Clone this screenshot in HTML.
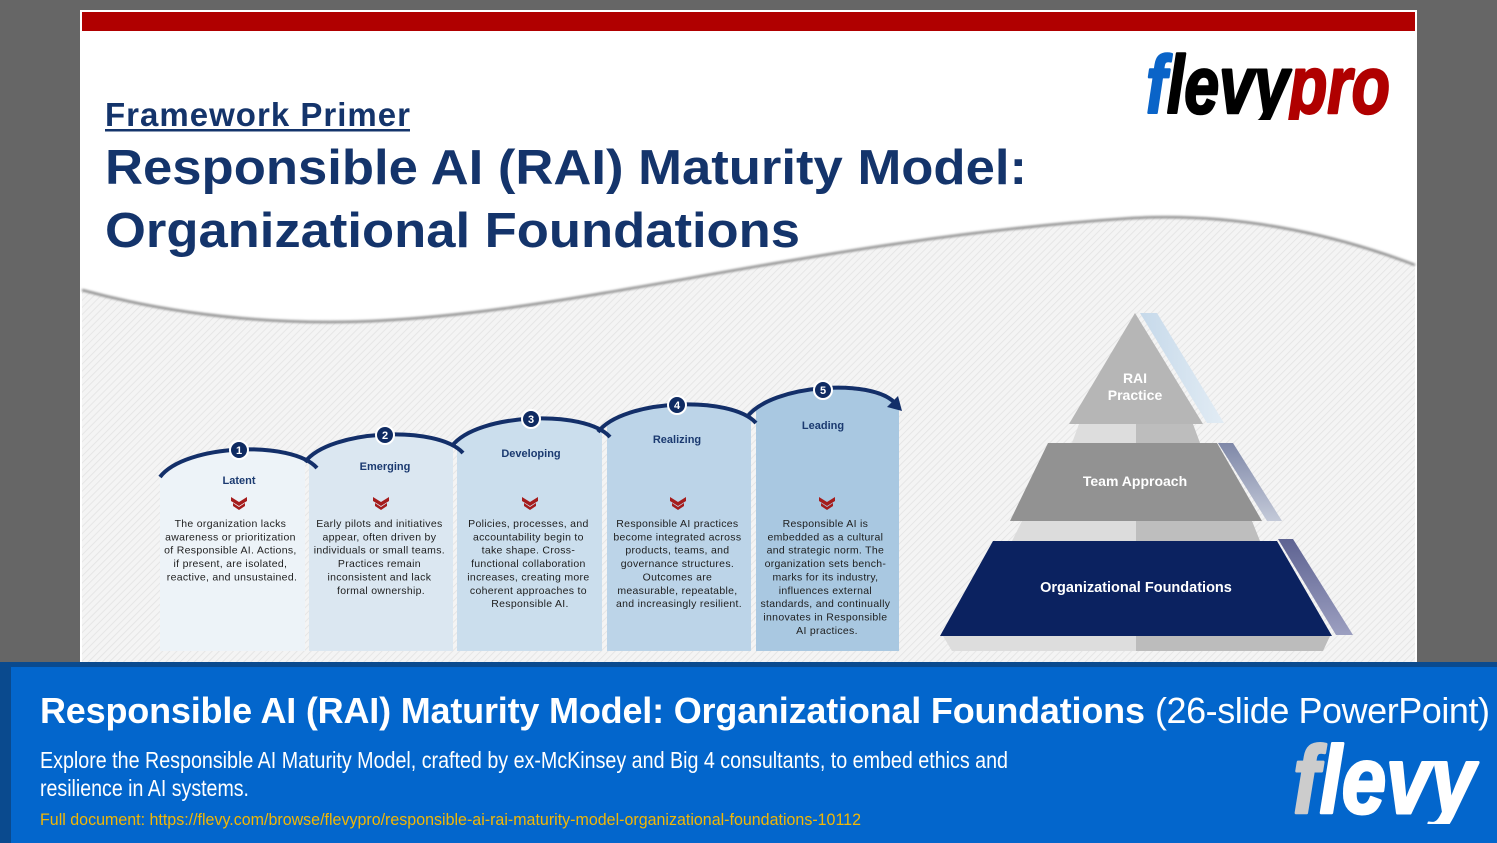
<!DOCTYPE html>
<html><head><meta charset="utf-8"><style>
html,body{margin:0;padding:0;background:#666;}
svg{display:block;font-family:"Liberation Sans",Arial,sans-serif;}
</style></head><body>
<svg width="1497" height="843" viewBox="0 0 1497 843" xmlns="http://www.w3.org/2000/svg">
<defs>
  <pattern id="hatch" width="5" height="5" patternUnits="userSpaceOnUse" patternTransform="rotate(45)">
    <rect width="5" height="5" fill="#f4f4f4"/>
    <line x1="0" y1="0" x2="0" y2="5" stroke="#e3e3e3" stroke-width="1.6"/>
  </pattern>
  <filter id="blur" x="-5%" y="-50%" width="110%" height="200%"><feGaussianBlur stdDeviation="1"/></filter>
  <clipPath id="c1"><rect x="160" y="380" width="145" height="280"/></clipPath>
  <clipPath id="c2"><rect x="309" y="380" width="144" height="280"/></clipPath>
  <clipPath id="c3"><rect x="457" y="380" width="145" height="280"/></clipPath>
  <clipPath id="c4"><rect x="607" y="380" width="144" height="280"/></clipPath>
  <clipPath id="c5"><rect x="756" y="370" width="143" height="290"/></clipPath>
  <clipPath id="logo1"><rect x="1130" y="40" width="280" height="80"/></clipPath>
  <clipPath id="logo2"><rect x="1280" y="730" width="210" height="94"/></clipPath>
  <linearGradient id="bv1" x1="0" y1="0" x2="1" y2="0"><stop offset="0" stop-color="#c6d9ea"/><stop offset="1" stop-color="#e2ecf4"/></linearGradient>
  <linearGradient id="bv2" x1="0" y1="0" x2="0" y2="1"><stop offset="0" stop-color="#7f88a8"/><stop offset="1" stop-color="#c3c9d8"/></linearGradient>
  <linearGradient id="bv3" x1="0" y1="0" x2="0" y2="1"><stop offset="0" stop-color="#5e6392"/><stop offset="1" stop-color="#9c9fc0"/></linearGradient>
</defs>

<!-- background -->
<rect x="0" y="0" width="1497" height="843" fill="#666666"/>
<rect x="80" y="10" width="1337" height="652" fill="#ffffff"/>
<rect x="82" y="31" width="1333" height="631" fill="url(#hatch)"/>
<path d="M82,31 H1415 V265 C1350,240 1250,212 1133,218 C800,240 550,322 330,322 Q200,322 82,290 Z" fill="#ffffff"/>
<path d="M1415,265 C1350,240 1250,212 1133,218 C800,240 550,322 330,322 Q200,322 82,290" fill="none" stroke="#8f8f8f" stroke-width="2.5" filter="url(#blur)"/>
<rect x="82" y="12" width="1333" height="19" fill="#b00000"/>

<!-- titles -->
<text x="105" y="126" font-size="33" font-weight="bold" fill="#14346b" textLength="305">Framework Primer</text>
<rect x="105" y="129" width="305" height="2.5" fill="#14346b"/>
<text x="105" y="184" font-size="49" font-weight="bold" fill="#14346b" textLength="922" lengthAdjust="spacingAndGlyphs">Responsible AI (RAI) Maturity Model:</text>
<text x="105" y="247" font-size="49" font-weight="bold" fill="#14346b" textLength="695" lengthAdjust="spacingAndGlyphs">Organizational Foundations</text>

<!-- flevypro logo -->
<g clip-path="url(#logo1)">
<text x="1146" y="113" font-size="82" font-weight="bold" font-style="italic" stroke-width="2.5" stroke-linejoin="round" textLength="244" lengthAdjust="spacingAndGlyphs"><tspan fill="#0a64c8" stroke="#0a64c8">f</tspan><tspan fill="#000000" stroke="#000000">levy</tspan><tspan fill="#b00000" stroke="#b00000">pro</tspan></text>
</g>

<!-- columns fills -->
<g clip-path="url(#c1)"><path d="M160,477 C185,444 292,440 317,468 L317,651 L160,651 Z" fill="#edf3f8"/></g>
<g clip-path="url(#c2)"><path d="M305,462 C330,429 438,425 463,453 L463,651 L305,651 Z" fill="#dbe7f1"/></g>
<g clip-path="url(#c3)"><path d="M452,446 C477,413 585,409 610,437 L610,651 L452,651 Z" fill="#cbdeed"/></g>
<g clip-path="url(#c4)"><path d="M598,432 C623,399 731,395 756,423 L756,651 L598,651 Z" fill="#bcd4e8"/></g>
<g clip-path="url(#c5)"><path d="M747,417 C772,384 875,380 900,408 L900,651 L747,651 Z" fill="#a9c8e1"/></g>

<!-- arc lines -->
<g fill="none" stroke="#132f69" stroke-width="4">
  <path d="M160,477 C185,444 292,440 317,468"/>
  <path d="M305,462 C330,429 438,425 463,453"/>
  <path d="M452,446 C477,413 585,409 610,437"/>
  <path d="M598,432 C623,399 731,395 756,423"/>
  <path d="M747,417 C772,384 872,378 895,403"/>
</g>
<polygon points="898,396 887,407 902,411" fill="#132f69"/>

<!-- circles -->
<g stroke="#ffffff" stroke-width="2" fill="#0f2b62">
  <circle cx="239" cy="450" r="9"/>
  <circle cx="385" cy="435" r="9"/>
  <circle cx="531" cy="419" r="9"/>
  <circle cx="677" cy="405" r="9"/>
  <circle cx="823" cy="390" r="9"/>
</g>
<g fill="#ffffff" font-size="11" font-weight="bold" text-anchor="middle">
  <text x="239" y="454">1</text>
  <text x="385" y="439">2</text>
  <text x="531" y="423">3</text>
  <text x="677" y="409">4</text>
  <text x="823" y="394">5</text>
</g>

<!-- labels -->
<g fill="#1b3a70" font-size="11" font-weight="bold" text-anchor="middle">
  <text x="239" y="484">Latent</text>
  <text x="385" y="470">Emerging</text>
  <text x="531" y="457">Developing</text>
  <text x="677" y="443">Realizing</text>
  <text x="823" y="429">Leading</text>
</g>

<!-- chevrons -->
<g fill="#a51c1c">
  <g transform="translate(239,0)"><polygon points="-8,497 0,502 8,497 8,501 0,506 -8,501"/><polygon points="-6,503 0,507 6,503 6,506 0,510 -6,506"/></g>
  <g transform="translate(381,0)"><polygon points="-8,497 0,502 8,497 8,501 0,506 -8,501"/><polygon points="-6,503 0,507 6,503 6,506 0,510 -6,506"/></g>
  <g transform="translate(530,0)"><polygon points="-8,497 0,502 8,497 8,501 0,506 -8,501"/><polygon points="-6,503 0,507 6,503 6,506 0,510 -6,506"/></g>
  <g transform="translate(678,0)"><polygon points="-8,497 0,502 8,497 8,501 0,506 -8,501"/><polygon points="-6,503 0,507 6,503 6,506 0,510 -6,506"/></g>
  <g transform="translate(827,0)"><polygon points="-8,497 0,502 8,497 8,501 0,506 -8,501"/><polygon points="-6,503 0,507 6,503 6,506 0,510 -6,506"/></g>
</g>

<!-- descriptions -->
<g fill="#1e1e1e" font-size="10.5" text-anchor="middle" letter-spacing="0.3">
  <text y="527">
    <tspan x="232">The organization lacks</tspan>
    <tspan x="232" dy="13.35">awareness or prioritization</tspan>
    <tspan x="232" dy="13.35">of Responsible AI. Actions,</tspan>
    <tspan x="232" dy="13.35">if present, are isolated,</tspan>
    <tspan x="232" dy="13.35">reactive, and unsustained.</tspan>
  </text>
  <text y="527">
    <tspan x="381">Early pilots and initiatives</tspan>
    <tspan x="381" dy="13.35">appear, often driven by</tspan>
    <tspan x="381" dy="13.35">individuals or small teams.</tspan>
    <tspan x="381" dy="13.35">Practices remain</tspan>
    <tspan x="381" dy="13.35">inconsistent and lack</tspan>
    <tspan x="381" dy="13.35">formal ownership.</tspan>
  </text>
  <text y="527">
    <tspan x="530">Policies, processes, and</tspan>
    <tspan x="530" dy="13.35">accountability begin to</tspan>
    <tspan x="530" dy="13.35">take shape. Cross-</tspan>
    <tspan x="530" dy="13.35">functional collaboration</tspan>
    <tspan x="530" dy="13.35">increases, creating more</tspan>
    <tspan x="530" dy="13.35">coherent approaches to</tspan>
    <tspan x="530" dy="13.35">Responsible AI.</tspan>
  </text>
  <text y="527">
    <tspan x="679">Responsible AI practices</tspan>
    <tspan x="679" dy="13.35">become integrated across</tspan>
    <tspan x="679" dy="13.35">products, teams, and</tspan>
    <tspan x="679" dy="13.35">governance structures.</tspan>
    <tspan x="679" dy="13.35">Outcomes are</tspan>
    <tspan x="679" dy="13.35">measurable, repeatable,</tspan>
    <tspan x="679" dy="13.35">and increasingly resilient.</tspan>
  </text>
  <text y="527">
    <tspan x="827">Responsible AI is</tspan>
    <tspan x="827" dy="13.35">embedded as a cultural</tspan>
    <tspan x="827" dy="13.35">and strategic norm. The</tspan>
    <tspan x="827" dy="13.35">organization sets bench-</tspan>
    <tspan x="827" dy="13.35">marks for its industry,</tspan>
    <tspan x="827" dy="13.35">influences external</tspan>
    <tspan x="827" dy="13.35">standards, and continually</tspan>
    <tspan x="827" dy="13.35">innovates in Responsible</tspan>
    <tspan x="827" dy="13.35">AI practices.</tspan>
  </text>
</g>

<!-- pyramid -->
<polygon points="1140,313 1157,313 1224,423 1207,423" fill="url(#bv1)"/>
<polygon points="1135,313 1203,424 1069,424" fill="#b6b6b6"/>
<polygon points="1079,424 1136,424 1136,443 1072,443" fill="#dddddd"/>
<polygon points="1136,424 1193,424 1200,443 1136,443" fill="#bdbdbd"/>
<polygon points="1218,443 1233,443 1282,521 1267,521" fill="url(#bv2)"/>
<polygon points="1048,443 1217,443 1262,521 1010,521" fill="#929292"/>
<polygon points="1022,521 1136,521 1136,541 1012,541" fill="#dcdcdc"/>
<polygon points="1136,521 1252,521 1260,541 1136,541" fill="#bebebe"/>
<polygon points="1278,539 1293,539 1353,635 1336,635" fill="url(#bv3)"/>
<polygon points="993,541 1277,541 1332,636 940,636" fill="#0b2260"/>
<polygon points="943,636 1136,636 1136,651 952,651" fill="#dddddd"/>
<polygon points="1136,636 1330,636 1323,651 1136,651" fill="#bcbcbc"/>
<g fill="#ffffff" font-weight="bold" text-anchor="middle">
  <text x="1135" y="383" font-size="14">RAI</text>
  <text x="1135" y="400" font-size="14">Practice</text>
  <text x="1135" y="486" font-size="14">Team Approach</text>
  <text x="1136" y="592" font-size="14.5">Organizational Foundations</text>
</g>

<!-- banner -->
<rect x="0" y="662" width="1497" height="181" fill="#0a4a8e"/>
<rect x="11" y="667" width="1486" height="176" fill="#0366cc"/>
<text x="40" y="723" font-size="36" font-weight="bold" fill="#ffffff" textLength="1105">Responsible AI (RAI) Maturity Model: Organizational Foundations</text>
<text x="1155" y="723" font-size="36" fill="#ffffff" textLength="335">(26-slide PowerPoint)</text>
<text x="40" y="768" font-size="23" fill="#ffffff" textLength="968" lengthAdjust="spacingAndGlyphs">Explore the Responsible AI Maturity Model, crafted by ex-McKinsey and Big 4 consultants, to embed ethics and</text>
<text x="40" y="796" font-size="23" fill="#ffffff" textLength="209" lengthAdjust="spacingAndGlyphs">resilience in AI systems.</text>
<text x="40" y="825" font-size="16.5" fill="#f2b705" textLength="821" lengthAdjust="spacingAndGlyphs">Full document: https://flevy.com/browse/flevypro/responsible-ai-rai-maturity-model-organizational-foundations-10112</text>
<g clip-path="url(#logo2)">
<text x="1293" y="813" font-size="96" font-weight="bold" font-style="italic" stroke-width="3" stroke-linejoin="round" textLength="182" lengthAdjust="spacingAndGlyphs"><tspan fill="#cccccc" stroke="#cccccc">f</tspan><tspan fill="#ffffff" stroke="#ffffff">levy</tspan></text>
</g>
</svg>
</body></html>
